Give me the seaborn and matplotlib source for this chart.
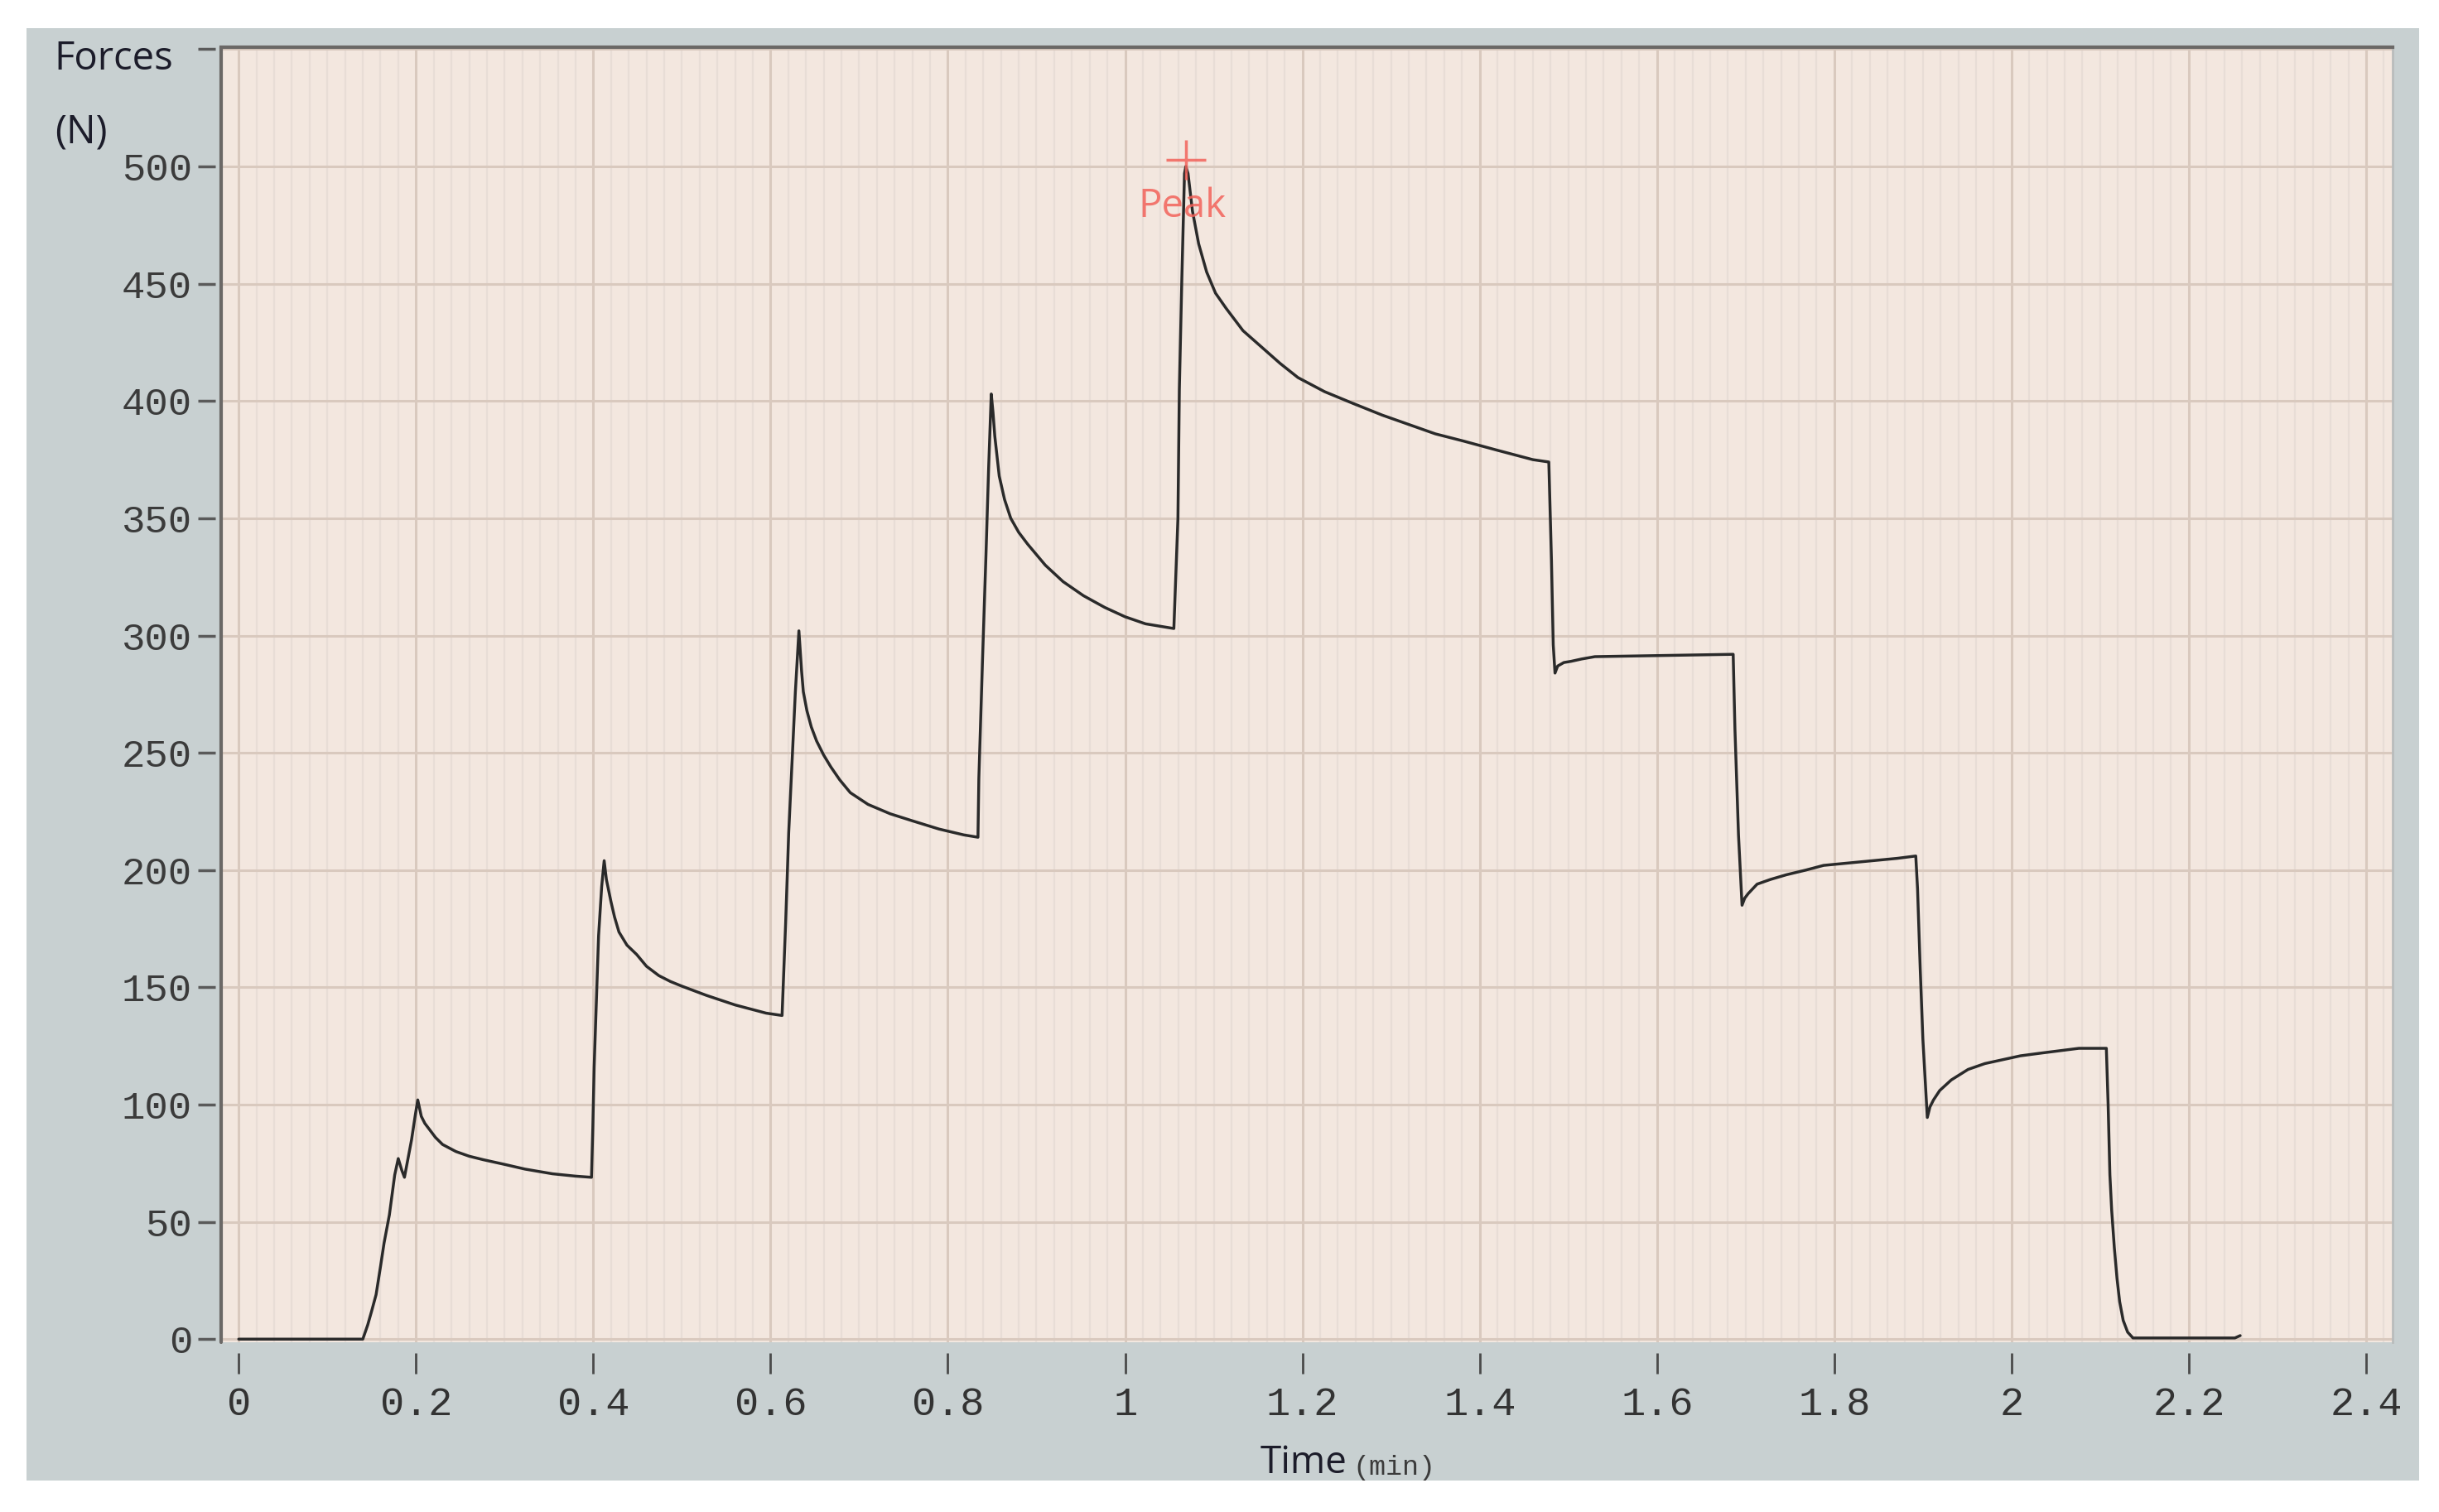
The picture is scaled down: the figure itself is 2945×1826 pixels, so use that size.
import numpy as np
import pandas as pd
import seaborn as sns
import matplotlib.pyplot as plt
from matplotlib.patches import Rectangle
from matplotlib.ticker import MultipleLocator

# force-time trace (time in min, force in N)
time_min = [
    0.000, 0.140, 0.1455, 0.150, 0.155, 0.160, 0.164, 0.170, 0.176, 0.180,
    0.184, 0.187, 0.191, 0.195, 0.199, 0.202,
    0.206, 0.210, 0.214, 0.222, 0.230, 0.245, 0.260, 0.276, 0.300, 0.323,
    0.354, 0.380, 0.398,
    0.3995, 0.401, 0.404, 0.406, 0.4095, 0.4123,
    0.4148, 0.420, 0.424, 0.429, 0.438, 0.449, 0.460, 0.474, 0.487, 0.500,
    0.5275, 0.560, 0.595, 0.613,
    0.617, 0.6205, 0.6245, 0.628, 0.632,
    0.635, 0.637, 0.641, 0.646, 0.652, 0.660, 0.668, 0.678, 0.690, 0.710,
    0.735, 0.760, 0.790, 0.818, 0.834,
    0.835, 0.839, 0.843, 0.846, 0.849,
    0.851, 0.853, 0.858, 0.864, 0.871, 0.880, 0.890, 0.910, 0.930, 0.953,
    0.977, 1.000, 1.023, 1.055,
    1.0596, 1.0612, 1.064, 1.067, 1.0685,
    1.071, 1.076, 1.083, 1.092, 1.102, 1.114, 1.133, 1.154, 1.175, 1.195,
    1.225, 1.257, 1.290, 1.320, 1.350, 1.381, 1.420, 1.460, 1.478,
    1.481, 1.483, 1.485, 1.488, 1.495, 1.503, 1.515, 1.530, 1.686,
    1.688, 1.692, 1.696, 1.699, 1.703, 1.708, 1.713, 1.728, 1.746, 1.768,
    1.788, 1.829, 1.871, 1.892,
    1.894, 1.897, 1.900, 1.905, 1.908, 1.912, 1.919, 1.932, 1.951, 1.970,
    1.988, 2.010, 2.034, 2.055, 2.076, 2.107,
    2.109, 2.111, 2.113, 2.116, 2.119, 2.122, 2.126, 2.131, 2.137, 2.252, 2.258,
]
force_n = [
    0, 0, 6, 12, 19, 31, 41, 53, 70, 77,
    72, 69, 77, 85, 95, 102,
    95, 92, 90, 86, 83, 80, 78, 76.5, 74.5, 72.5,
    70.5, 69.5, 69,
    90, 116, 150, 172, 193, 204,
    196, 186.5, 180, 173.6, 168, 164, 159, 155, 152.5, 150.5,
    146.6, 142.5, 139, 138,
    177, 216, 248, 276, 302,
    285, 276, 268, 261, 255, 249, 244, 238.5, 233, 228,
    224, 221, 217.5, 215, 214,
    239, 288, 334, 371, 403,
    395, 385, 368, 358, 350, 344, 339, 330, 323, 317,
    312, 308, 305, 303,
    350, 405, 452, 497, 500,
    497, 481, 467, 455, 446, 439.5, 430, 423, 416, 410,
    404, 399, 394, 390, 386, 383, 379, 375, 374,
    332, 296, 284, 287, 288.5, 289, 290, 291, 292,
    260, 215, 185, 188, 190, 192, 194, 196, 198, 200,
    202, 203.5, 205, 206,
    192, 158, 128, 94.5, 99, 102, 106, 110.5, 115, 117.5,
    119, 120.8, 122, 123, 124, 124,
    100, 70, 55, 39, 26, 16, 8, 3, 0.5, 0.5, 1.5,
]

x_ticks = [0, 0.2, 0.4, 0.6, 0.8, 1.0, 1.2, 1.4, 1.6, 1.8, 2.0, 2.2, 2.4]
x_labels = ['0', '0.2', '0.4', '0.6', '0.8', '1', '1.2', '1.4', '1.6', '1.8', '2', '2.2', '2.4']
y_ticks = [0, 50, 100, 150, 200, 250, 300, 350, 400, 450, 500, 550]
y_labels = ['0', '50', '100', '150', '200', '250', '300', '350', '400', '450', '500', '']

df = pd.DataFrame({'time': time_min, 'force': force_n})

sns.set_theme(style='white')
plt.rcParams['font.family'] = ['Liberation Mono', 'DejaVu Sans']

screen = '#c8d0d1'
panel = '#f3e7df'
grid_c = '#d9c9be'
stripe_c = '#e8ddd6'
red = '#f2625a'

fig = plt.figure(figsize=(29.45, 18.26), dpi=100, facecolor='white')
fig.patches.append(Rectangle((0.0108, 0.0206), 0.9809, 0.9609, transform=fig.transFigure,
                             facecolor=screen, edgecolor='none', zorder=-10))
ax = fig.add_axes([0.0906, 0.112, 0.8904, 0.857])
ax.set_facecolor(panel)

sns.lineplot(data=df, x='time', y='force', ax=ax, color='#2a2a2a', linewidth=2.5,
             estimator=None, sort=False, zorder=3)

# peak marker
i_peak = int(np.argmax(force_n))
t_peak, f_peak = time_min[i_peak], force_n[i_peak]
ax.plot(t_peak, f_peak + 3, marker='+', ms=34, mew=2.5, color=red, alpha=0.85, zorder=4)
ax.text(t_peak - 0.004, f_peak - 17, 'Peak', color=red, alpha=0.85, fontsize=34,
        family='Open Sans', ha='center', va='center', zorder=4)

ax.set_xlim(-0.02, 2.43)
ax.set_ylim(-1.5, 551)
ax.set_xticks(x_ticks)
ax.set_xticklabels(x_labels)
ax.set_yticks(y_ticks)
ax.set_yticklabels(y_labels)
ax.xaxis.set_minor_locator(MultipleLocator(0.02))
ax.set_xlabel('')
ax.set_ylabel('')

# screen grid plus the fine vertical stripes of the photographed display
ax.grid(True, which='major', color=grid_c, linewidth=2.2)
ax.grid(True, which='minor', axis='x', color=stripe_c, linewidth=1.6)
ax.set_axisbelow(True)

ax.spines['bottom'].set_position(('outward', 9))
ax.spines['bottom'].set_visible(False)
ax.spines['left'].set_position(('outward', 5))
ax.spines['left'].set_visible(False)
ax.spines['top'].set_color('#6b6866')
ax.spines['top'].set_linewidth(3)
ax.spines['right'].set_color('#b9bcbc')
ax.spines['right'].set_linewidth(2)
ax.plot([0, 0], [0, 1], transform=ax.transAxes, color='#6b6866', lw=3, clip_on=False, zorder=5)

ax.tick_params(axis='y', direction='out', length=15, width=2.5, color='#5a5a5a', pad=5,
               labelsize=34, labelcolor='#3b3b3b', left=True)
ax.tick_params(axis='x', which='major', direction='out', length=18, width=2, color='#4a4a4a',
               pad=11, labelsize=35, labelcolor='#333333', bottom=True)
ax.tick_params(axis='x', which='minor', length=0)

fig.text(0.0223, 0.961, 'Forces', family='Open Sans', fontsize=34, color='#1c1c2a',
         ha='left', va='center')
fig.text(0.0223, 0.9125, '(N)', family='Open Sans', fontsize=34, color='#1c1c2a',
         ha='left', va='center')
fig.text(0.5523, 0.0257, 'Time', family='Open Sans', fontsize=33, color='#1c1c2a',
         ha='right', va='baseline')
fig.text(0.5545, 0.0245, '(min)', family='Liberation Mono', fontsize=24, color='#3b3b3b',
         ha='left', va='baseline')

fig.savefig('out.png', dpi=100, facecolor='white')
plt.close(fig)
